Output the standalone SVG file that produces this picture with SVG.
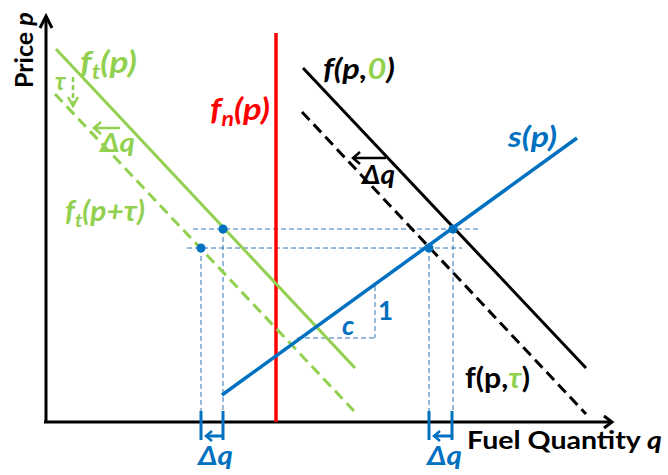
<svg xmlns="http://www.w3.org/2000/svg" width="668" height="475" viewBox="0 0 668 475">
<style>
text{font-family:Lato,"Liberation Sans",sans-serif;font-weight:bold}
.it{font-style:italic}
.g{fill:#92D050}.b{fill:#0070C0}.k{fill:#000}.r{fill:#FF0000}
.axis{stroke:#000;stroke-width:3;fill:none}
.thin{stroke:#2E75B6;stroke-width:1;stroke-dasharray:5 3;fill:none}
</style>
<rect width="668" height="475" fill="#fff"/>
<g id="axes">
<line class="axis" x1="46" y1="422" x2="46" y2="16"/>
<polyline class="axis" points="40,28 46,16 52,28"/>
<line class="axis" x1="44" y1="422" x2="611" y2="422"/>
<polyline class="axis" points="604,416 612,422 604,428"/>
<text x="33" y="88" font-size="25" transform="rotate(-90 33 88)">Price <tspan class="it">p</tspan></text>
<text x="467" y="449" font-size="25" textLength="195" lengthAdjust="spacingAndGlyphs">Fuel Quantity <tspan class="it">q</tspan></text>
</g>
<g id="connectors">
<g id="guides">
<line class="thin" x1="193" y1="229" x2="478" y2="229"/>
<line class="thin" x1="187" y1="248" x2="462" y2="248"/>
<line class="thin" x1="201" y1="248" x2="201" y2="412"/>
<line class="thin" x1="223" y1="229" x2="223" y2="412"/>
<line class="thin" x1="429" y1="248" x2="429" y2="412"/>
<line class="thin" x1="453" y1="229" x2="453" y2="412"/>
<line class="thin" x1="375" y1="286" x2="375" y2="338"/>
<line class="thin" x1="297" y1="338" x2="375" y2="338"/>
</g>
<line id="fn" x1="276" y1="33" x2="276" y2="422" stroke="#FF0000" stroke-width="3.5"/>
<line id="ft" x1="56" y1="49" x2="355" y2="368" stroke="#92D050" stroke-width="3"/>
<line id="ftt" x1="55" y1="94" x2="354" y2="411" stroke="#92D050" stroke-width="3" stroke-dasharray="11 6"/>
<line id="f0" x1="303" y1="68" x2="586" y2="368" stroke="#000" stroke-width="3"/>
<line id="ftau" x1="302" y1="112" x2="586" y2="414" stroke="#000" stroke-width="3" stroke-dasharray="11 6"/>
<line id="sp" x1="222" y1="395" x2="577" y2="138" stroke="#0070C0" stroke-width="3.5"/>
<g id="shift-arrows" fill="none">
<line x1="73" y1="77" x2="73" y2="106" stroke="#92D050" stroke-width="2.5" stroke-dasharray="5 3"/>
<polyline points="68,97 73,106 78,97" stroke="#92D050" stroke-width="2.5"/>
<line x1="94" y1="128" x2="120" y2="128" stroke="#92D050" stroke-width="2.5"/>
<polyline points="101,122 94,128 101,134" stroke="#92D050" stroke-width="2.5"/>
<line x1="353" y1="158" x2="386" y2="158" stroke="#000" stroke-width="2.5"/>
<polyline points="360,152 353,158 360,164" stroke="#000" stroke-width="2.5"/>
</g>
<g id="dq-bottom" stroke="#0070C0" stroke-width="3" fill="none">
<line x1="201" y1="411" x2="201" y2="440"/>
<line x1="223" y1="411" x2="223" y2="440"/>
<line x1="206" y1="436" x2="222" y2="436"/>
<polyline points="212,431 206,436 212,441" stroke-width="2.5"/>
<line x1="429" y1="411" x2="429" y2="440"/>
<line x1="452" y1="411" x2="452" y2="440"/>
<line x1="434" y1="436" x2="451" y2="436"/>
<polyline points="440,431 434,436 440,441" stroke-width="2.5"/>
</g>
</g>
<g id="dots" fill="#0070C0">
<circle cx="223" cy="229" r="4.5"/>
<circle cx="201" cy="248" r="4.5"/>
<circle cx="453" cy="229" r="4.5"/>
<circle cx="429" cy="248" r="4.5"/>
</g>
<g id="labels">
<text class="g it" x="80" y="73" font-size="30" textLength="57" lengthAdjust="spacingAndGlyphs">f<tspan font-size="20" dy="6">t</tspan><tspan dy="-6">(p)</tspan></text>
<text class="g it" x="55" y="90" font-size="24">τ</text>
<text class="g it" x="100" y="152" font-size="27" textLength="35" lengthAdjust="spacingAndGlyphs">Δq</text>
<text class="g it" x="65" y="221" font-size="28" textLength="80" lengthAdjust="spacingAndGlyphs">f<tspan font-size="19" dy="6">t</tspan><tspan dy="-6">(p+τ)</tspan></text>
<text class="r it" x="210" y="120" font-size="30" textLength="60" lengthAdjust="spacingAndGlyphs">f<tspan font-size="20" dy="6">n</tspan><tspan dy="-6">(p)</tspan></text>
<text class="k it" x="323" y="79" font-size="28" textLength="72" lengthAdjust="spacingAndGlyphs">f(p,<tspan class="g">0</tspan>)</text>
<text class="k it" x="362" y="184" font-size="27" textLength="33" lengthAdjust="spacingAndGlyphs">Δq</text>
<text class="b it" x="508" y="147" font-size="29" textLength="49" lengthAdjust="spacingAndGlyphs">s(p)</text>
<text class="b it" x="342" y="335" font-size="27">c</text>
<text class="b" x="378" y="320" font-size="26">1</text>
<text class="k" x="465" y="388" font-size="28" textLength="65" lengthAdjust="spacingAndGlyphs">f(p,<tspan class="g it">τ</tspan>)</text>
<text class="b it" x="198" y="465" font-size="27" textLength="35" lengthAdjust="spacingAndGlyphs">Δq</text>
<text class="b it" x="427" y="465" font-size="27" textLength="35" lengthAdjust="spacingAndGlyphs">Δq</text>
</g>
</svg>
